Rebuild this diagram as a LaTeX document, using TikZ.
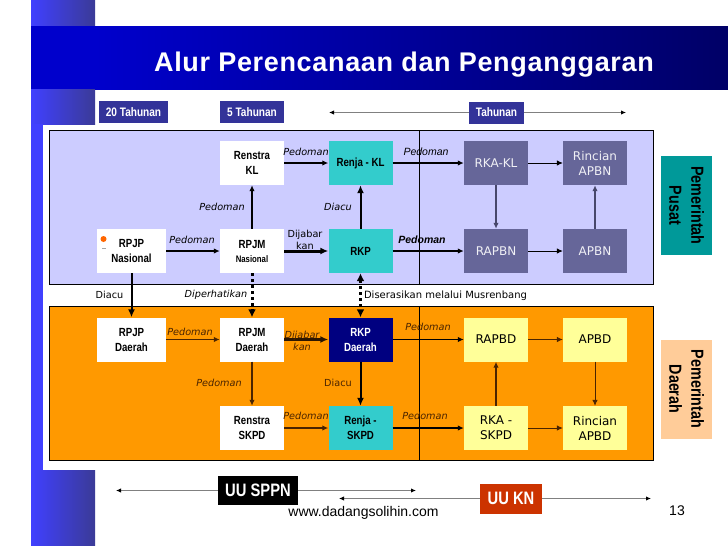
\documentclass[tikz,border=0pt]{standalone}
\usepackage{fontspec}
\setmainfont{Liberation Sans}
\newfontfamily\boxfont[FakeStretch=0.82]{Liberation Sans}
\newfontfamily\verdfont{DejaVu Sans}
\usetikzlibrary{arrows.meta,positioning,calc}
\definecolor{panelblue}{HTML}{CCCCFF}
\definecolor{panelorange}{HTML}{FF9900}
\definecolor{headblue}{HTML}{333399}
\definecolor{tealbox}{HTML}{33CCCC}
\definecolor{purplebox}{HTML}{666699}
\definecolor{yellowbox}{HTML}{FFFF99}
\definecolor{navybox}{HTML}{000080}
\definecolor{brownline}{HTML}{4A2400}
\definecolor{sideteal}{HTML}{009999}
\definecolor{sidepeach}{HTML}{FFCC99}
\definecolor{knred}{HTML}{CC3300}

\begin{document}
\begin{tikzpicture}[x=1pt,y=-1pt,
    >={Latex[length=6pt,width=5.5pt]},
    box/.style={inner sep=0pt,align=center,minimum width=64pt,minimum height=44pt,font=\boxfont\bfseries\fontsize{11.8}{15}\selectfont},
    whitebox/.style={box,fill=white},
    wideb/.style={whitebox,minimum width=69pt},
    tealb/.style={box,fill=tealbox},
    purpleb/.style={box,fill=purplebox,text=white!90!purplebox,font=\verdfont\fontsize{12}{15}\selectfont},
    yellowb/.style={box,fill=yellowbox,font=\verdfont\fontsize{12}{15}\selectfont},
    headb/.style={inner sep=0pt,fill=headblue,text=white,minimum height=22pt,font=\boxfont\bfseries\fontsize{12.3}{14}\selectfont},
    sideb/.style={inner sep=0pt,rotate=-90,align=center,minimum width=99pt,minimum height=51pt,font=\boxfont\bfseries\fontsize{17.5}{22}\selectfont},
    lbl/.style={inner sep=0pt,align=center,font=\verdfont\itshape\fontsize{9.7}{12}\selectfont},
    lblp/.style={lbl,font=\itshape\fontsize{10.5}{12}\selectfont},
    lblo/.style={lbl,text=brownline},
    arr/.style={->,line width=1.2pt},
    thin arr/.style={->,line width=0.8pt},
    arrb/.style={->,line width=1.2pt,draw=brownline},
    fat/.style={-{Latex[length=8pt,width=7pt]},line width=2pt},
    span/.style={draw=gray,line width=1pt,-{Latex[black,length=5pt,width=4.5pt]}},
    dots/.style={line width=3pt,dash pattern=on 3pt off 3pt}]
  \useasboundingbox (0,0) rectangle (728,546);
  % slide background
  \shade[left color=blue!75!white,right color=headblue!90!gray] (31,0) rectangle (95,124);
  \fill[blue!75!white] (31,124) rectangle (43,470);
  \shade[left color=blue!75!white,right color=headblue!90!gray] (31,470) rectangle (95,546);
  \fill[blue!80!black] (31,26) rectangle (96,89);
  \shade[left color=blue!80!black,right color=navybox!80!black] (95,26) rectangle (728,89);
  \node[inner sep=0pt,text=white,font=\bfseries\fontsize{27}{30}\selectfont] (title) at (404,65) {\addfontfeature{LetterSpace=2.5}Alur Perencanaan dan Penganggaran};
  % panels
  \draw[fill=panelblue,line width=0.8pt] (49.5,130.5) rectangle (653.5,284);
  \draw[fill=panelorange,line width=0.8pt] (49.5,306.5) rectangle (653.5,460);
  \draw[line width=0.8pt] (419.5,130.5)--(419.5,284);
  \draw[line width=1pt] (419.5,306.5)--(419.5,460);
  % period headers
  \node[headb,minimum width=69pt] (dua) at (133.5,112) {20 Tahunan};
  \node[headb,minimum width=64pt] (lima) at (252,112) {5 Tahunan};
  \node[headb,minimum width=55pt] (tahunan) at (496.5,112.5) {Tahunan};
  \coordinate (tl) at (329,112.5); \coordinate (tr) at (626,112.5);
  \draw[span] (tahunan)--(tl); \draw[span] (tahunan)--(tr);
  % pusat
  \node[whitebox] (renstrakl) at (252,163) {Renstra\\KL};
  \node[tealb] (renjakl) at (360.5,163) {Renja - KL};
  \node[purpleb] (rkakl) at (496,163) {RKA-KL};
  \node[purpleb] (rincianapbn) at (595,163) {Rincian\\APBN};
  \node[wideb] (rpjpn) at (131.5,251) {RPJP\\Nasional};
  \node[whitebox] (rpjmn) at (252,251) {RPJM\\[-1pt]{\fontsize{9.5}{10}\selectfont Nasional}};
  \node[tealb] (rkp) at (360.5,251) {RKP};
  \node[purpleb] (rapbn) at (496,251) {RAPBN};
  \node[purpleb] (apbn) at (595,251) {APBN};
  \fill[orange!80!red] (103.5,239) circle (3pt);
  \fill[gray!70] (101.5,247.5) rectangle (105.5,249);
  % daerah
  \node[wideb] (rpjpd) at (131.5,339.5) {RPJP\\Daerah};
  \node[whitebox] (rpjmd) at (252,339.5) {RPJM\\Daerah};
  \node[box,fill=navybox,text=white] (rkpd) at (360.5,339.5) {RKP\\Daerah};
  \node[yellowb] (rapbd) at (496,339.5) {RAPBD};
  \node[yellowb] (apbd) at (595,339.5) {APBD};
  \node[whitebox] (renstraskpd) at (252,428) {Renstra\\SKPD};
  \node[tealb] (renjaskpd) at (360.5,428) {Renja -\\SKPD};
  \node[yellowb] (rkaskpd) at (496,428) {RKA -\\SKPD};
  \node[yellowb] (rincianapbd) at (595,428) {Rincian\\APBD};
  % side labels
  \node[sideb,fill=sideteal] (pusat) at (686.5,205.5) {Pemerintah\\Pusat};
  \node[sideb,fill=sidepeach] (daerah) at (686.5,389) {Pemerintah\\Daerah};
  % connectors
  \draw[arr] (renstrakl)--(renjakl); \draw[arr] (renjakl)--(rkakl); \draw[thin arr] (rkakl)--(rincianapbn);
  \draw[arr] (rpjpn)--(rpjmn); \draw[fat,line width=3pt] (rpjmn)--(rkp); \draw[arr] (rkp)--(rapbn); \draw[thin arr] (rapbn)--(apbn);
  \draw[->,line width=1.5pt] (rpjmn)--(renstrakl); \draw[fat] (rkp)--(renjakl);
  \draw[->,line width=1.2pt,draw=purplebox!70!black] (rkakl)--(rapbn); \draw[->,line width=1.2pt,draw=purplebox!70!black] (apbn)--(rincianapbn);
  \draw[fat] (rpjpn)--(rpjpd);
  \draw[dots,-{Latex[length=8pt,width=8pt]}] (rpjmn)--(rpjmd);
  \draw[dots,{Latex[length=8pt,width=8pt]}-{Latex[length=8pt,width=8pt]}] (rkp)--(rkpd);
  \draw[arrb] (rpjpd)--(rpjmd); \draw[fat,line width=3pt,draw=brownline!60!black] (rpjmd)--(rkpd);
  \draw[arr] (rkpd)--(rapbd); \draw[arrb,line width=0.8pt] (rapbd)--(apbd);
  \draw[arrb] (rpjmd)--(renstraskpd); \draw[fat] (rkpd)--(renjaskpd);
  \draw[arrb] (rkaskpd)--(rapbd); \draw[arrb,line width=0.8pt] (apbd)--(rincianapbd);
  \draw[arrb] (renstraskpd)--(renjaskpd); \draw[arr] (renjaskpd)--(rkaskpd); \draw[arrb,line width=0.8pt] (rkaskpd)--(rincianapbd);
  % connector labels
  \node[lbl] (pa) at (306,152) {Pedoman};
  \node[lblp] (pb) at (426,152) {Pedoman};
  \node[lbl] (pc) at (222,207) {Pedoman};
  \node[lbl] (da) at (338,207) {Diacu};
  \node[lbl] (pd) at (192,240) {Pedoman};
  \node[lbl,font=\verdfont\fontsize{9.7}{11.5}\selectfont] (dja) at (305,240) {Dijabar\\kan};
  \node[lblp,font=\bfseries\itshape\fontsize{10.5}{12}\selectfont] (pe) at (422,240) {Pedoman};
  \node[lbl,font=\verdfont\fontsize{9.7}{12}\selectfont] (db) at (109.5,295) {Diacu};
  \node[lbl] (dp) at (216,295) {Diperhatikan};
  \node[lbl,font=\verdfont\fontsize{10}{12}\selectfont] (ds) at (445.5,295.5) {Diserasikan melalui Musrenbang};
  \node[lblo] (pf) at (190,332) {Pedoman};
  \node[lblo] (dj) at (302,340.5) {Dijabar\\kan};
  \node[lblo] (pg) at (428,327) {Pedoman};
  \node[lblo] (ph) at (219,383) {Pedoman};
  \node[lbl,font=\verdfont\fontsize{9.7}{12}\selectfont,text=brownline] (dc) at (338,383) {Diacu};
  \node[lblo] (pi) at (306,416) {Pedoman};
  \node[lblo] (pj) at (425,416) {Pedoman};
  % laws
  \node[inner sep=0pt,fill=black,text=white,minimum width=80pt,minimum height=29pt,font=\boxfont\bfseries\fontsize{18}{20}\selectfont] (sppn) at (258,490.5) {\raisebox{-1.5pt}{UU SPPN}};
  \node[inner sep=0pt,fill=knred,text=white,minimum width=62pt,minimum height=30pt,font=\boxfont\bfseries\fontsize{18}{20}\selectfont] (kn) at (511,498.5) {\raisebox{-1.5pt}{UU KN}};
  \coordinate (sl) at (116,490.5); \coordinate (sr) at (416,490.5);
  \coordinate (kl) at (339,498.5); \coordinate (kr) at (651,498.5);
  \draw[span] (sppn)--(sl); \draw[span] (sppn)--(sr);
  \draw[span] (kn)--(kl); \draw[span] (kn)--(kr);
  \node[inner sep=0pt,font=\fontsize{14}{16}\selectfont] (web) at (363.5,512.5) {www.dadangsolihin.com};
  \node[inner sep=0pt,font=\fontsize{14}{16}\selectfont] (page) at (677,511) {13};
\end{tikzpicture}
\end{document}
